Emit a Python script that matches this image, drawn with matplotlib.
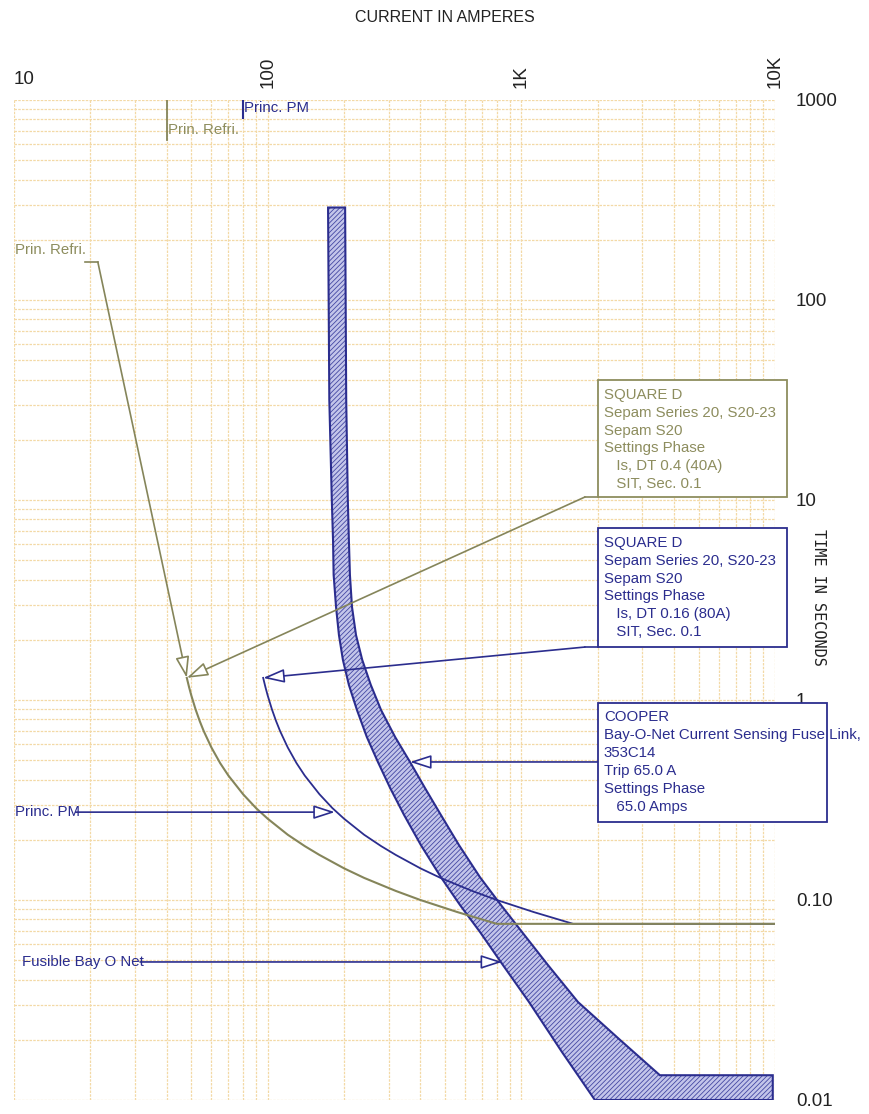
import matplotlib
matplotlib.use("Agg")
import matplotlib.pyplot as plt
from matplotlib.patches import Polygon, Rectangle
from matplotlib.ticker import LogLocator, NullFormatter
from matplotlib.transforms import offset_copy

# ---------------- data ----------------
x_ticks = [10, 100, 1000, 10000]
x_tick_labels = ["10", "100", "1K", "10K"]
y_ticks = [0.01, 0.1, 1, 10, 100, 1000]
y_tick_labels = ["0.01", "0.10", "1", "10", "100", "1000"]

# Cooper Bay-O-Net fuse band (amperes, seconds)
fuse_melt_I = [173, 175, 179, 181, 182, 186, 191, 198, 209, 225, 246, 272, 304, 345,
               402, 482, 573, 687, 846, 1072, 1445, 1950]
fuse_melt_t = [290, 31.6, 10, 6.31, 4.22, 2.92, 2.11, 1.585, 1.19, 0.89, 0.653, 0.49,
               0.363, 0.266, 0.188, 0.130, 0.0944, 0.0692, 0.0473, 0.0309, 0.0174, 0.01]
fuse_clear_I = [202, 204, 207, 209, 211, 215, 223, 236, 255, 280, 318, 364, 417, 482,
                568, 687, 831, 1006, 1273, 1672, 2447, 3517, 9800, 9800]
fuse_clear_t = [290, 31.6, 10, 6.31, 4.22, 2.92, 2.11, 1.585, 1.19, 0.89, 0.653, 0.49,
                0.363, 0.266, 0.188, 0.130, 0.0944, 0.0692, 0.0473, 0.0309, 0.02, 0.0133,
                0.0133, 0.01]

# Sepam S20 relay curves
refri_I = [48, 49, 50, 52, 54, 56, 60, 65, 70, 80, 90, 100, 120, 140, 160, 200, 240,
           280, 320, 400, 560, 800, 10000]
refri_t = [1.290, 1.159, 1.054, 0.896, 0.783, 0.698, 0.579, 0.483, 0.419, 0.338, 0.288,
           0.255, 0.212, 0.186, 0.168, 0.144, 0.129, 0.119, 0.111, 0.100, 0.087, 0.076,
           0.076]
pm_I = [96, 98, 100, 104, 108, 112, 120, 130, 140, 160, 180, 200, 240, 280, 320, 400,
        480, 560, 640, 800, 1120, 1600, 10000]
pm_t = [1.290, 1.159, 1.054, 0.896, 0.783, 0.698, 0.579, 0.483, 0.419, 0.338, 0.288,
        0.255, 0.212, 0.186, 0.168, 0.144, 0.129, 0.119, 0.111, 0.100, 0.087, 0.076,
        0.076]

refri_pickup = 40
pm_pickup = 80

olive_box_lines = ["SQUARE D", "Sepam Series 20, S20-23", "Sepam S20",
                   "Settings Phase", "   Is, DT 0.4 (40A)", "   SIT, Sec. 0.1"]
blue_box_lines = ["SQUARE D", "Sepam Series 20, S20-23", "Sepam S20",
                  "Settings Phase", "   Is, DT 0.16 (80A)", "   SIT, Sec. 0.1"]
cooper_box_lines = ["COOPER", "Bay-O-Net Current Sensing Fuse Link,", "353C14",
                    "Trip 65.0 A", "Settings Phase", "   65.0 Amps"]

# ---------------- style ----------------
NAVY = "#2b2d8e"
OLIVE = "#85855a"
OLIVE_TXT = "#8d8d5e"
GRID = "#f3d9a6"
TXT_FONT = ["Liberation Sans", "DejaVu Sans"]
TICK_FONT = ["Liberation Sans", "DejaVu Sans"]
FS = 10.8

plt.rcParams["hatch.linewidth"] = 0.6

fig = plt.figure(figsize=(8.69, 11.14), dpi=100)
ax = fig.add_axes([14 / 869, 1 - 1100 / 1114, (775 - 14) / 869, 1000 / 1114])
ax.set_xscale("log")
ax.set_yscale("log")
ax.set_xlim(10, 10000)
ax.set_ylim(0.01, 1000)
for s in ax.spines.values():
    s.set_visible(False)
ax.set_axisbelow(True)
ax.xaxis.set_minor_locator(LogLocator(base=10, subs=range(2, 10)))
ax.yaxis.set_minor_locator(LogLocator(base=10, subs=range(2, 10)))
ax.xaxis.set_minor_formatter(NullFormatter())
ax.yaxis.set_minor_formatter(NullFormatter())
ax.grid(which="both", color=GRID, linestyle=(0, (2, 1)), linewidth=0.9)

# ticks
ax.xaxis.set_ticks_position("top")
ax.set_xticks(x_ticks, labels=x_tick_labels)
ax.tick_params(axis="x", which="both", length=0, pad=9, labeltop=True, labelbottom=False,
               labelsize=13.5, labelcolor="#222222")
for i, tk in enumerate(ax.xaxis.get_major_ticks()):
    tk.label2.set_rotation(0 if i == 0 else 90)
    tk.label2.set_family(TICK_FONT)
    if i == 0:
        tk.label2.set_ha("left")
ax.yaxis.tick_right()
ax.set_yticks(y_ticks, labels=y_tick_labels)
ax.tick_params(axis="y", which="both", length=0, pad=15, labelsize=13.5, labelcolor="#222222")
for tk in ax.yaxis.get_major_ticks():
    tk.label2.set_family(TICK_FONT)

fig.text(445 / 869, 1 - 17 / 1114, "CURRENT IN AMPERES", ha="center", va="center",
         fontsize=11.5, family=TICK_FONT, color="#222222")
fig.text(818 / 869, 1 - 597 / 1114, "TIME IN SECONDS", ha="center", va="center",
         rotation=-90, fontsize=11, family=["DejaVu Sans Mono"], color="#222222")

# fuse band
verts = list(zip(fuse_melt_I, fuse_melt_t)) + list(zip(fuse_clear_I[::-1], fuse_clear_t[::-1]))
ax.add_patch(Polygon(verts, closed=True, facecolor="#c3c5ea", edgecolor="#4448a3",
                     hatch="///////", linewidth=0, zorder=2))
ax.add_patch(Polygon(verts, closed=True, facecolor="none", edgecolor=NAVY,
                     linewidth=1.5, zorder=2.5))

# relay curves
ax.plot(pm_I, pm_t, color=NAVY, lw=1.3, zorder=3)
ax.plot(refri_I, refri_t, color=OLIVE, lw=1.5, zorder=3.1)

# pickup markers at top
ax.plot([refri_pickup, refri_pickup], [631, 1000], color=OLIVE, lw=1.3, zorder=3)
ax.text(refri_pickup * 1.01, 708, "Prin. Refri.", color=OLIVE_TXT, fontsize=FS,
        family=TXT_FONT, ha="left", va="center", zorder=4)
ax.plot([pm_pickup, pm_pickup], [813, 1000], color=NAVY, lw=1.5, zorder=3)
ax.text(pm_pickup * 1.01, 912, "Princ. PM", color=NAVY, fontsize=FS,
        family=TXT_FONT, ha="left", va="center", zorder=4)


def arrow(p_from, p_to, color):
    ax.annotate("", xy=p_to, xytext=p_from, xycoords="data", textcoords="data",
                arrowprops=dict(arrowstyle="-|>,head_length=1.3,head_width=0.42",
                                fc="white", ec=color, lw=1.2, shrinkA=0, shrinkB=0),
                zorder=4)


def box(x0, x1, t_top, t_bot, lines, color, top_off=15, pitch=17.8):
    ax.add_patch(Rectangle((x0, t_bot), x1 - x0, t_top - t_bot, transform=ax.transData,
                           facecolor="white", edgecolor=color, lw=1.3, clip_on=False,
                           zorder=5))
    for i, ln in enumerate(lines):
        tr = offset_copy(ax.transData, fig=fig, x=6, y=-(top_off + pitch * i), units="dots")
        ax.text(x0, t_top, ln, transform=tr, color=color, fontsize=FS, family=TXT_FONT,
                ha="left", va="center", zorder=6, clip_on=False)


# left labels with leaders
ax.text(10.1, 178, "Prin. Refri.", color=OLIVE_TXT, fontsize=FS, family=TXT_FONT,
        ha="left", va="center", zorder=4)
ax.plot([19.05, 21.4], [155, 155], color=OLIVE, lw=1.2, zorder=4)
arrow((21.4, 155), (48, 1.29), OLIVE)

ax.text(10.1, 0.275, "Princ. PM", color=NAVY, fontsize=FS, family=TXT_FONT,
        ha="left", va="center", zorder=4)
arrow((17.5, 0.275), (184, 0.275), NAVY)

ax.text(10.75, 0.049, "Fusible Bay O Net", color=NAVY, fontsize=FS, family=TXT_FONT,
        ha="left", va="center", zorder=4)
arrow((31.4, 0.049), (840, 0.049), NAVY)

# boxes with leaders
ax.plot([2004, 1781], [10.35, 10.35], color=OLIVE, lw=1.2, zorder=4)
arrow((1781, 10.35), (48, 1.29), OLIVE)
box(2004, 11140, 39.8, 10.35, olive_box_lines, OLIVE_TXT)

ax.plot([2004, 1781], [1.84, 1.84], color=NAVY, lw=1.2, zorder=4)
arrow((1781, 1.84), (96, 1.29), NAVY)
box(2004, 11140, 7.24, 1.84, blue_box_lines, NAVY)

arrow((2004, 0.49), (364, 0.49), NAVY)
box(2004, 16000, 0.966, 0.245, cooper_box_lines, NAVY, top_off=14, pitch=18)

fig.savefig("out.png", dpi=100)
